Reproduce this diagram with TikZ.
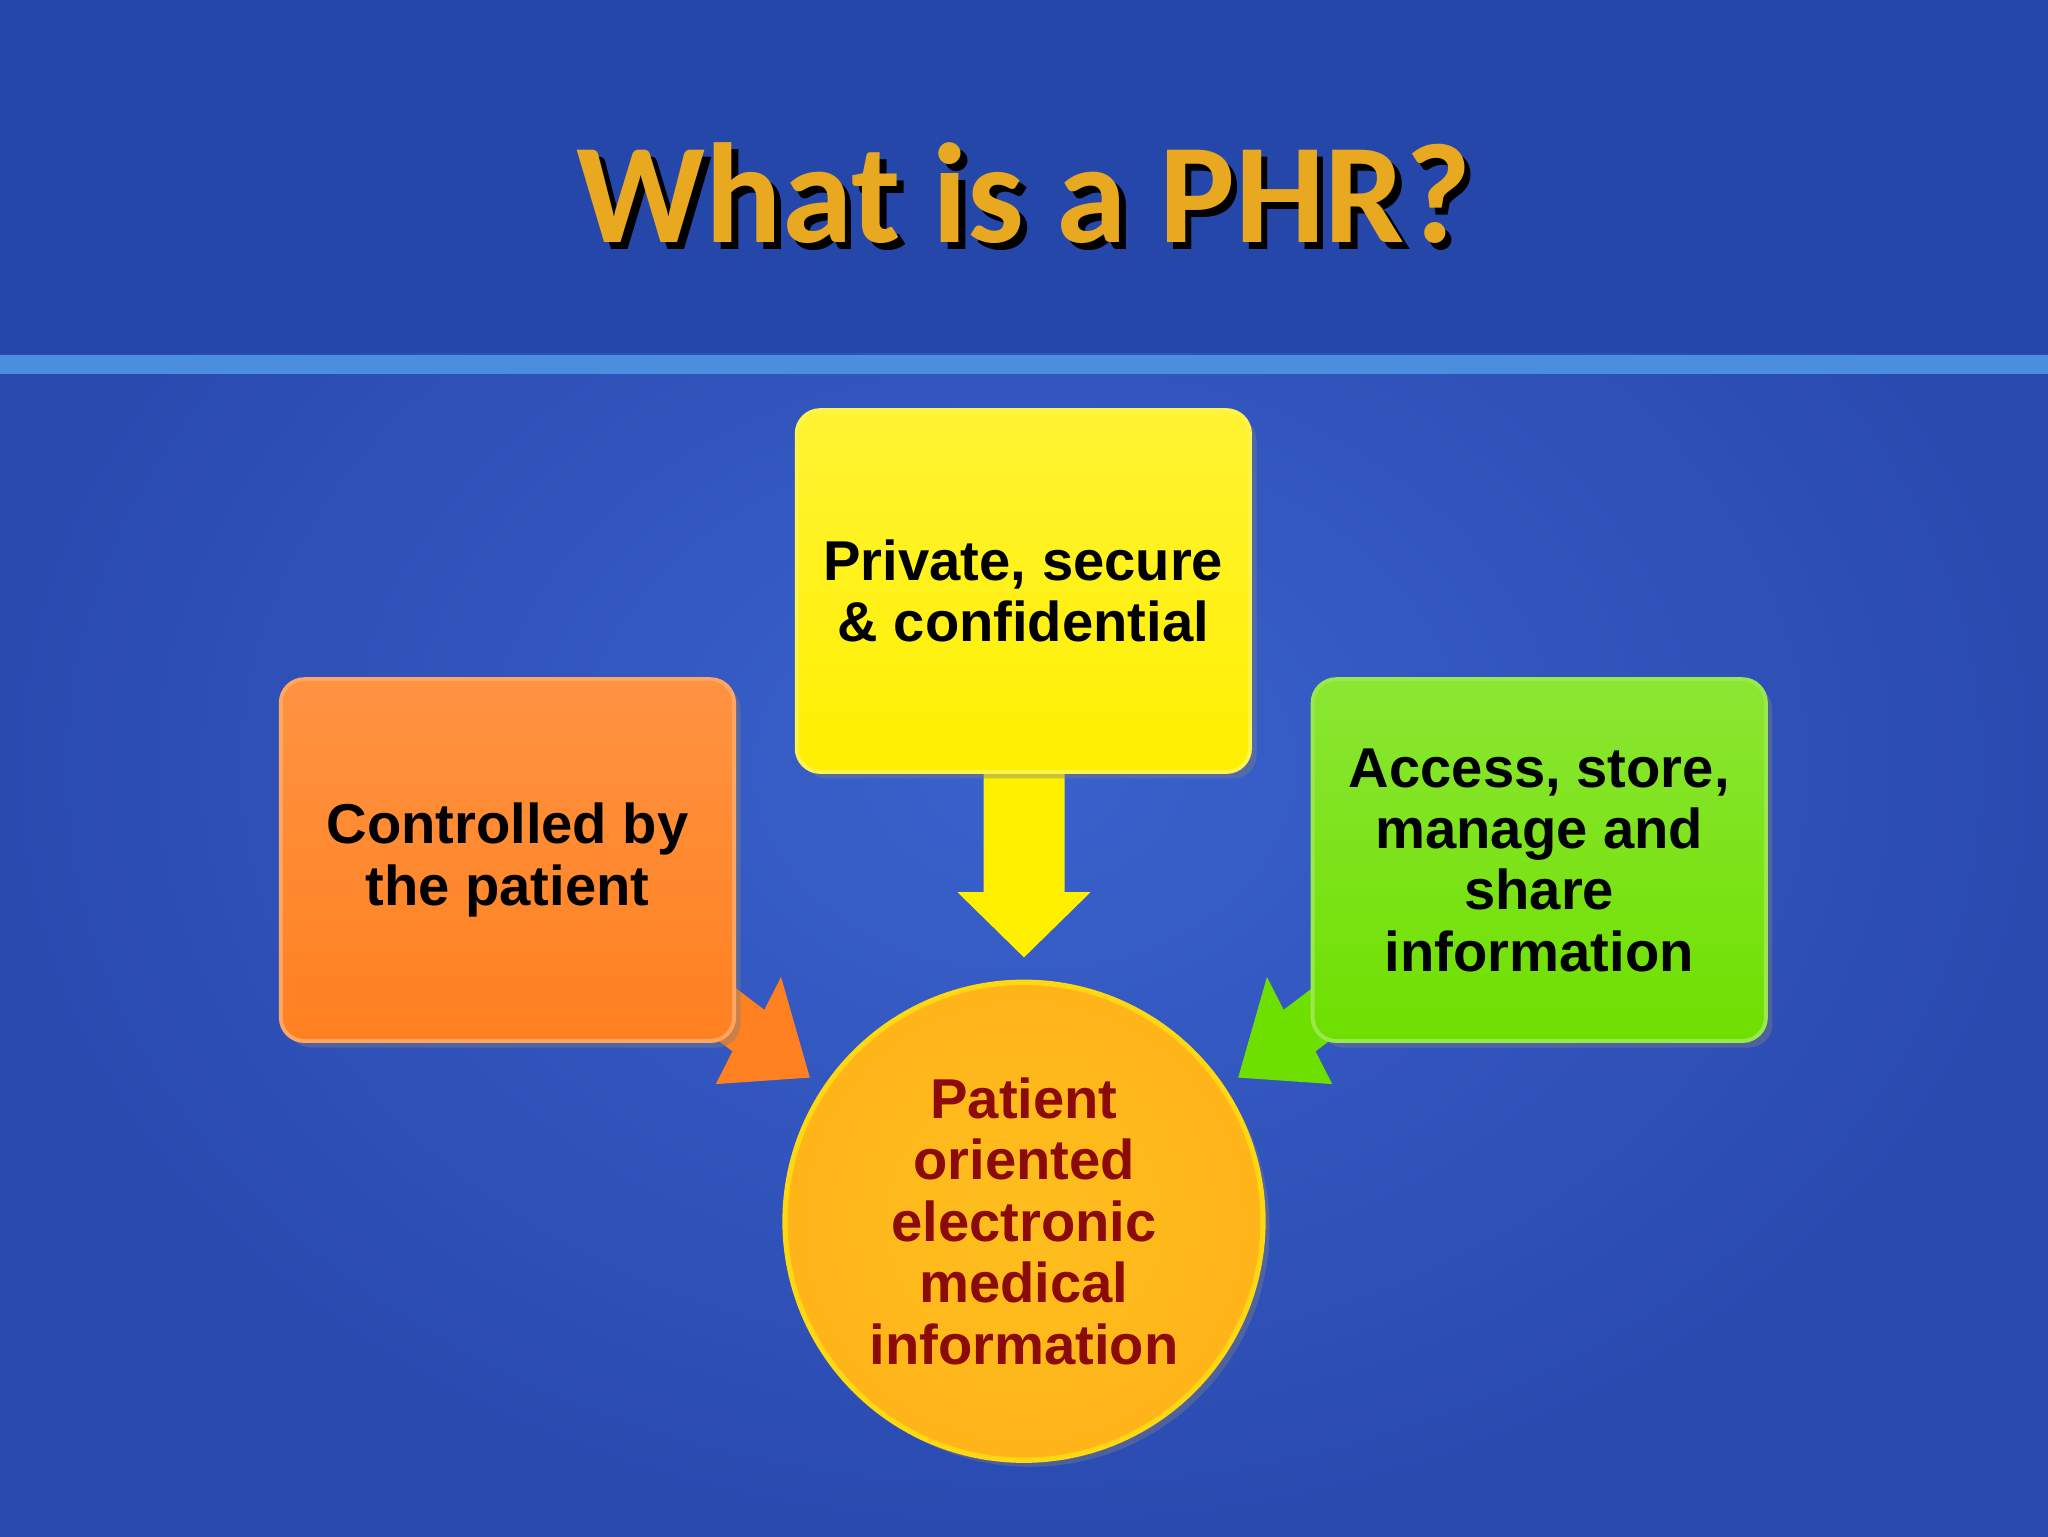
\documentclass[tikz,border=0pt]{standalone}
\usepackage{fontspec}
\setmainfont{Liberation Sans}
\newfontfamily\titlefont{Carlito}
\usetikzlibrary{shadows}
\definecolor{bgblue}{HTML}{3A62CC}
\definecolor{bgdark}{HTML}{2A4AB0}
\definecolor{hdr}{HTML}{2647AA}
\definecolor{band}{HTML}{4A8EE0}
\definecolor{ttl}{HTML}{E8A820}
\definecolor{yel}{HTML}{FFF000}
\definecolor{ora}{HTML}{FF8020}
\definecolor{grn}{HTML}{6EE000}
\definecolor{gold}{HTML}{FFBE1E}
\definecolor{dred}{HTML}{8B0A0A}
\tikzset{
  box/.style={rounded corners=18pt, minimum width=347pt, minimum height=277pt, align=center,
    font=\fontsize{43}{47}\selectfont\bfseries, text=black, inner sep=0pt,
    drop shadow={shadow xshift=5pt, shadow yshift=-5pt, opacity=0.4}},
  ttlfont/.style={font=\titlefont\fontsize{109}{120}\selectfont\bfseries},
}
\begin{document}
\begin{tikzpicture}[x=1pt,y=-1pt]
\useasboundingbox (0,0) rectangle (1568,1176);
\shade[inner color=bgblue, outer color=bgdark] (0,0) rectangle (1568,1176);
\fill[hdr] (0,0) rectangle (1568,270);
\fill[band] (0,272) rectangle (1568,286);
\node[text=black, ttlfont] at (789,153) {What is a PHR?};
\node (title) [text=ttl, ttlfont] at (784,148) {What is a PHR?};
% arrows
\fill[yel] (753,585) -- (815,585) -- (815,683) -- (835,683) -- (784,733) -- (733,683) -- (753,683) -- cycle;
\fill[ora] (553.4,749) -- (585.2,773.1) -- (598,748) -- (620,825) -- (548,830) -- (560.8,804.9) -- (529,781) -- cycle;
\fill[grn] (1014.6,749) -- (982.8,773.1) -- (970,748) -- (948,825) -- (1020,830) -- (1007.2,804.9) -- (1039,781) -- cycle;
% boxes
\node (priv) [box, top color=yel!80!white, bottom color=yel, draw=yel!70!white, line width=3pt] at (783.5,452.5) {Private, secure\\\& confidential};
\node (ctrl) [box, top color=ora!85!white, bottom color=ora, draw=ora!70!white, line width=3pt] at (388.5,658.5) {Controlled by\\the patient};
\node (acc) [box, top color=grn!80!white, bottom color=grn, draw=grn!70!white, line width=3pt] at (1178.5,658.5) {Access, store,\\manage and\\share\\information};
\node (pat) [circle, minimum size=366pt, inner sep=0pt, align=center, inner color=gold, outer color=gold!85!orange, draw=gold!60!yellow, line width=4pt,
  drop shadow={shadow xshift=5pt, shadow yshift=-5pt, opacity=0.4},
  font=\fontsize{43}{47}\selectfont\bfseries, text=dred] at (784,935) {Patient\\oriented\\electronic\\medical\\information};
\end{tikzpicture}
\end{document}
